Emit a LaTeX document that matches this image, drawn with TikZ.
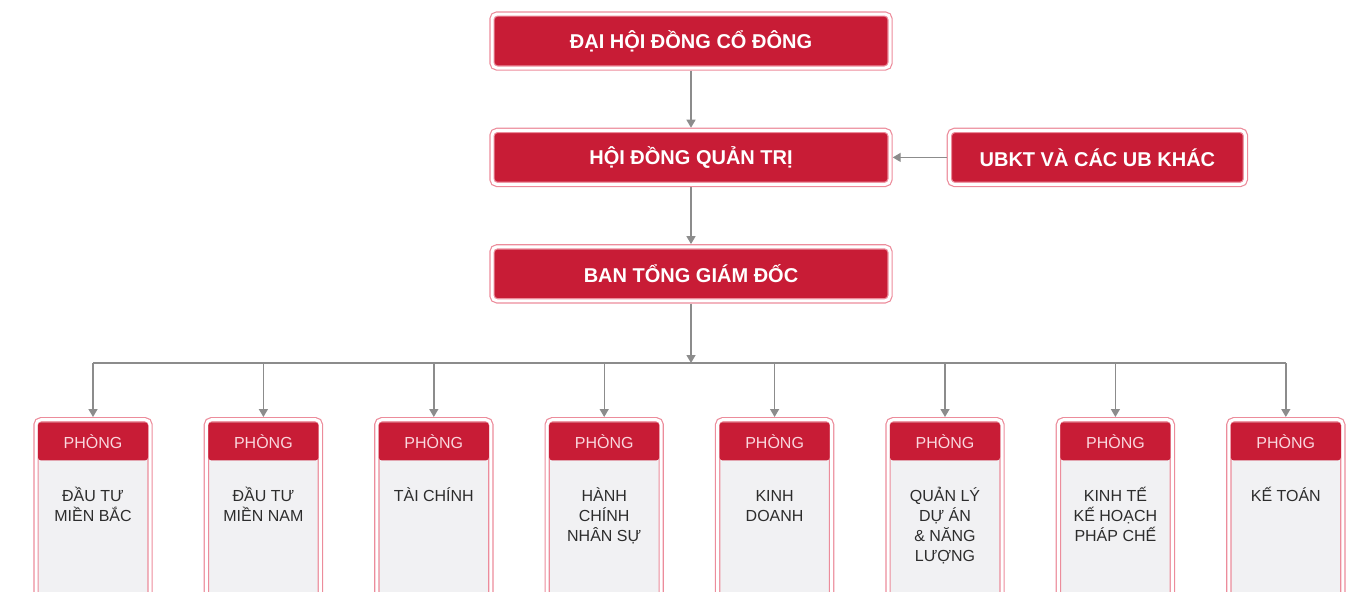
\documentclass[tikz,border=0pt]{standalone}
\usepackage{fontspec}
\setmainfont{Liberation Sans}
\usetikzlibrary{positioning,arrows.meta}

\definecolor{boardred}{RGB}{200,28,54}
\definecolor{framepink}{RGB}{236,140,155}
\definecolor{headpink}{RGB}{250,215,222}
\definecolor{bodygray}{RGB}{241,241,243}
\definecolor{linegray}{RGB}{140,140,140}
\definecolor{bodytext}{RGB}{45,45,45}
\newcommand\firstln{\rule{0pt}{11pt}}

\begin{document}
\begin{tikzpicture}[x=0.5pt,y=-0.5pt,node distance=28.5pt,
  board/.style={draw=framepink,double=white,double distance=1.5pt,line width=0.6pt,
    fill=boardred,rounded corners=2.5pt,minimum width=199pt,minimum height=27pt,
    outer sep=1.35pt,text=white,font=\bfseries\fontsize{10}{12}\selectfont},
  dept/.style={draw=framepink,double=white,double distance=1.5pt,line width=0.6pt,
    fill=bodygray,rounded corners=2.5pt,minimum width=57pt,minimum height=100pt,
    outer sep=1.35pt},
  head/.style={fill=boardred,rounded corners=1.5pt,minimum width=55pt,minimum height=19pt,
    inner sep=0pt,text=headpink,font=\fontsize{8}{10}\selectfont},
  body/.style={anchor=north,yshift=-9pt,inner sep=0pt,align=center,text=bodytext,
    font=\fontsize{8}{10}\selectfont},
  arr/.style={draw=linegray,line width=0.7pt,-{Triangle[width=4.5pt,length=4pt]}},
  wire/.style={draw=linegray,line width=0.7pt}]
\useasboundingbox (0,0) rectangle (1358,591);
\clip (0,0) rectangle (1358,591);

% top of the chart
\node[board] (dhd) at (691,41) {ĐẠI HỘI ĐỒNG CỔ ĐÔNG};
\node[board] (hdqt) [below=of dhd] {HỘI ĐỒNG QUẢN TRỊ};
\node[board] (btgd) [below=of hdqt] {BAN TỔNG GIÁM ĐỐC};
\node[board,minimum width=148pt] (ubkt) [right=27pt of hdqt] {UBKT VÀ CÁC UB KHÁC};

% departments
\node[dept,anchor=north] (d1) at (93,417) {};
\node[dept] (d2) [right=25.5pt of d1] {};
\node[dept] (d3) [right=25.5pt of d2] {};
\node[dept] (d4) [right=25.5pt of d3] {};
\node[dept] (d5) [right=25.5pt of d4] {};
\node[dept] (d6) [right=25.5pt of d5] {};
\node[dept] (d7) [right=25.5pt of d6] {};
\node[dept] (d8) [right=25.5pt of d7] {};

\node[head] (h1) [below=2.5pt of d1.north] {PHÒNG};
\node[head] (h2) [below=2.5pt of d2.north] {PHÒNG};
\node[head] (h3) [below=2.5pt of d3.north] {PHÒNG};
\node[head] (h4) [below=2.5pt of d4.north] {PHÒNG};
\node[head] (h5) [below=2.5pt of d5.north] {PHÒNG};
\node[head] (h6) [below=2.5pt of d6.north] {PHÒNG};
\node[head] (h7) [below=2.5pt of d7.north] {PHÒNG};
\node[head] (h8) [below=2.5pt of d8.north] {PHÒNG};

\node[body] (t1) at (h1.south) {\firstln ĐẦU TƯ\\MIỀN BẮC};
\node[body] (t2) at (h2.south) {\firstln ĐẦU TƯ\\MIỀN NAM};
\node[body] (t3) at (h3.south) {\firstln TÀI CHÍNH};
\node[body] (t4) at (h4.south) {\firstln HÀNH\\CHÍNH\\NHÂN SỰ};
\node[body] (t5) at (h5.south) {\firstln KINH\\DOANH};
\node[body] (t6) at (h6.south) {\firstln QUẢN LÝ\\DỰ ÁN\\\& NĂNG\\LƯỢNG};
\node[body] (t7) at (h7.south) {\firstln KINH TẾ\\KẾ HOẠCH\\PHÁP CHẾ};
\node[body] (t8) at (h8.south) {\firstln KẾ TOÁN};

% connectors
\coordinate (bus) at (691,363);
\draw[arr] (dhd) -- (hdqt);
\draw[arr] (hdqt) -- (btgd);
\draw[arr] (ubkt) -- (hdqt);
\draw[arr] (btgd) -- (bus);
\draw[wire] (bus -| d1) -- (bus -| d8);
\draw[arr] (bus -| d1) -- (d1);
\draw[arr] (bus -| d2) -- (d2);
\draw[arr] (bus -| d3) -- (d3);
\draw[arr] (bus -| d4) -- (d4);
\draw[arr] (bus -| d5) -- (d5);
\draw[arr] (bus -| d6) -- (d6);
\draw[arr] (bus -| d7) -- (d7);
\draw[arr] (bus -| d8) -- (d8);
\end{tikzpicture}
\end{document}
